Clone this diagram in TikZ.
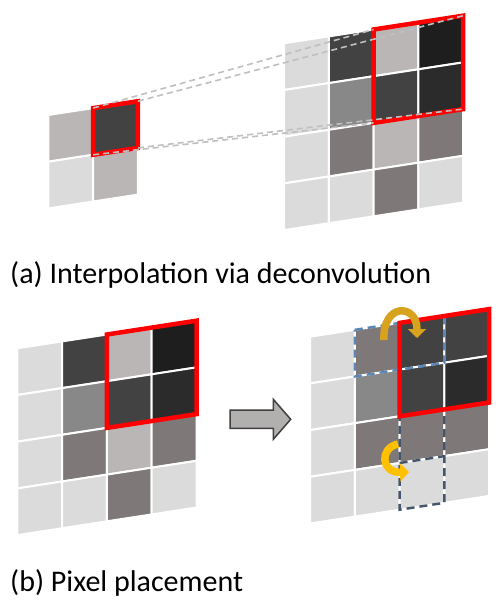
\documentclass[tikz,border=0pt]{standalone}
\usepackage{fontspec}
\setmainfont{Carlito}
\usetikzlibrary{arrows.meta}

\definecolor{pxlight}{HTML}{DCDBDB}
\definecolor{pxsilver}{HTML}{BAB6B6}
\definecolor{pxtaupe}{HTML}{7F7878}
\definecolor{pxmid}{HTML}{888888}
\definecolor{pxdark}{HTML}{434242}
\definecolor{pxcoal}{HTML}{2B2B2B}
\definecolor{pxblack}{HTML}{1E1E1E}
\definecolor{guidegray}{HTML}{BFBFBF}
\definecolor{slottop}{HTML}{5B87B8}
\definecolor{slotbottom}{HTML}{44546A}
\definecolor{turndark}{HTML}{D7A21E}
\definecolor{turnlight}{HTML}{FFC000}
\definecolor{blockgray}{HTML}{B2AFAF}
\definecolor{blockedge}{HTML}{3F3F3F}

\begin{document}
\begin{tikzpicture}[x=1pt,y=-1pt,
    pixel/.style={draw=white,line width=2pt},
    redbox/.style={draw=red,line width=4.5pt},
    guide/.style={draw=guidegray,line width=1.6pt,dash pattern=on 6pt off 4pt},
    slot/.style={line width=2.4pt,dash pattern=on 8pt off 5pt},
    turn/.style={line width=7.5pt,-{Triangle[length=9pt,width=18pt]}},
    caption/.style={anchor=base west,inner sep=0pt,font=\fontsize{30}{36}\selectfont}]

  \fill [white] (0,0) rectangle (498,607);
  \useasboundingbox (0,0) rectangle (498,607);

  % (a) low resolution input
  \begin{scope}[shift={(48.3,115)},x={(44.8pt,6.9pt)},y={(0pt,-46.7pt)}]
    \foreach \cols [count=\j from 0] in {{pxsilver,pxdark},{pxlight,pxsilver}}
      \foreach \px [count=\i from 0] in \cols
        \filldraw [pixel,fill=\px] (\i,\j) -- (\i+1,\j) -- (\i+1,\j+1) -- (\i,\j+1) -- cycle;
    \draw [redbox] (1,0) -- (2,0) -- (2,1) -- (1,1) -- cycle;
    \coordinate (lo-tl) at (1,0);
    \coordinate (lo-tr) at (2,0);
    \coordinate (lo-bl) at (1,1);
    \coordinate (lo-br) at (2,1);
  \end{scope}

  % (a) deconvolution output
  \begin{scope}[shift={(284,43.3)},x={(44.8pt,6.9pt)},y={(0pt,-46.7pt)}]
    \foreach \cols [count=\j from 0] in {{pxlight,pxdark,pxsilver,pxblack},
                                        {pxlight,pxmid,pxdark,pxcoal},
                                        {pxlight,pxtaupe,pxsilver,pxtaupe},
                                        {pxlight,pxlight,pxtaupe,pxlight}}
      \foreach \px [count=\i from 0] in \cols
        \filldraw [pixel,fill=\px] (\i,\j) -- (\i+1,\j) -- (\i+1,\j+1) -- (\i,\j+1) -- cycle;
    \draw [redbox] (2,0) -- (4,0) -- (4,2) -- (2,2) -- cycle;
    \coordinate (hi-tl) at (2,0);
    \coordinate (hi-tr) at (4,0);
    \coordinate (hi-bl) at (2,2);
    \coordinate (hi-br) at (4,2);
  \end{scope}

  \draw [guide] (lo-tl) -- (hi-tl);
  \draw [guide] (lo-tr) -- (hi-tr);
  \draw [guide] (lo-bl) -- (hi-bl);
  \draw [guide] (lo-br) -- (hi-br);

  \node [caption] (capa) at (10,283.3) {(a) Interpolation via deconvolution};

  % (b) before placement
  \begin{scope}[shift={(17.3,348.3)},x={(44.8pt,6.9pt)},y={(0pt,-46.7pt)}]
    \foreach \cols [count=\j from 0] in {{pxlight,pxdark,pxsilver,pxblack},
                                        {pxlight,pxmid,pxdark,pxcoal},
                                        {pxlight,pxtaupe,pxsilver,pxtaupe},
                                        {pxlight,pxlight,pxtaupe,pxlight}}
      \foreach \px [count=\i from 0] in \cols
        \filldraw [pixel,fill=\px] (\i,\j) -- (\i+1,\j) -- (\i+1,\j+1) -- (\i,\j+1) -- cycle;
    \draw [redbox] (2,0) -- (4,0) -- (4,2) -- (2,2) -- cycle;
  \end{scope}

  \filldraw [fill=blockgray,draw=blockedge,line width=1.5pt]
    (230,410) -- (273.3,410) -- (273.3,399.3) -- (290.7,419.3)
    -- (273.3,439.3) -- (273.3,428.3) -- (230,428.3) -- cycle;

  % (b) after placement
  \begin{scope}[shift={(310,336.7)},x={(44.8pt,6.9pt)},y={(0pt,-46.7pt)}]
    \foreach \cols [count=\j from 0] in {{pxlight,pxtaupe,pxdark,pxdark},
                                        {pxlight,pxmid,pxdark,pxcoal},
                                        {pxlight,pxtaupe,pxtaupe,pxtaupe},
                                        {pxlight,pxlight,pxlight,pxlight}}
      \foreach \px [count=\i from 0] in \cols
        \filldraw [pixel,fill=\px] (\i,\j) -- (\i+1,\j) -- (\i+1,\j+1) -- (\i,\j+1) -- cycle;
    \draw [slot,draw=slottop] (1,0) -- (3,0) -- (3,1) -- (1,1) -- cycle (2,0) -- (2,1);
    \draw [slot,draw=slotbottom] (2,2) -- (3,2) -- (3,4) -- (2,4) -- cycle (2,3) -- (3,3);
    \draw [redbox] (2,0) -- (4,0) -- (4,2) -- (2,2) -- cycle;
  \end{scope}

  \draw [turn,draw=turndark] (384,340) .. controls (382,303) and (417,303) .. (417,338);
  \draw [turn,draw=turnlight] (398,444) .. controls (379,448) and (381,473) .. (409,472);

  \node [caption] (capb) at (10,591.7) {(b) Pixel placement};
\end{tikzpicture}
\end{document}
